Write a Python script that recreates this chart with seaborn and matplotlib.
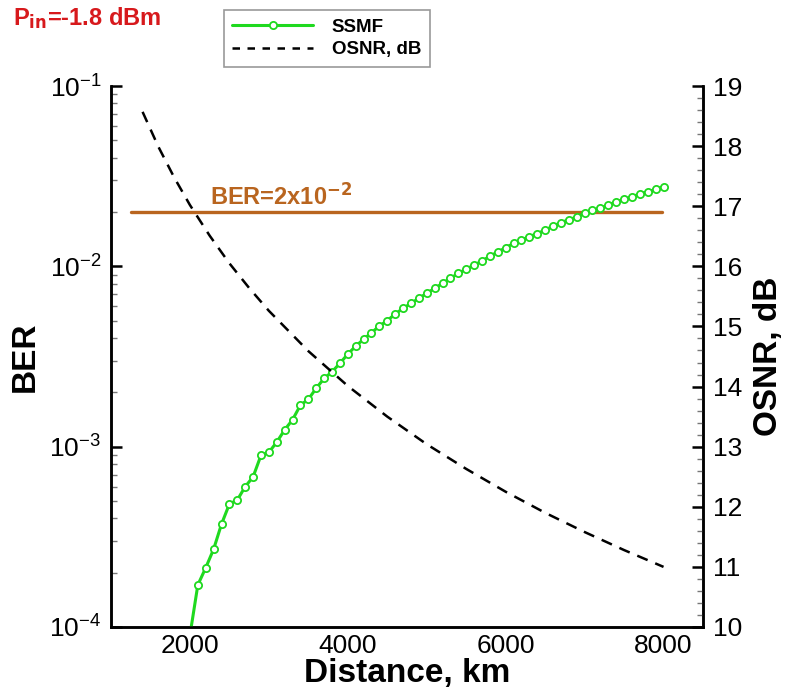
import numpy as np
import pandas as pd
import matplotlib
matplotlib.use("Agg")
import matplotlib.pyplot as plt
import seaborn as sns
from matplotlib.ticker import LogLocator, MultipleLocator, LogFormatterSciNotation, NullFormatter
from matplotlib.lines import Line2D

# ---------------- data ----------------
ssmf_km = [2000, 2100, 2200, 2300, 2400, 2500, 2600, 2700, 2800, 2900,
           3000, 3100, 3200, 3300, 3400, 3500, 3600, 3700, 3800, 3900,
           4000, 4100, 4200, 4300, 4400, 4500, 4600, 4700, 4800, 4900,
           5000, 5100, 5200, 5300, 5400, 5500, 5600, 5700, 5800, 5900,
           6000, 6100, 6200, 6300, 6400, 6500, 6600, 6700, 6800, 6900,
           7000, 7100, 7200, 7300, 7400, 7500, 7600, 7700, 7800, 7900, 8000]
ssmf_ber = [9.0e-5, 1.71e-4, 2.13e-4, 2.70e-4, 3.72e-4, 4.81e-4, 5.06e-4, 6.0e-4, 6.8e-4, 8.95e-4,
            9.3e-4, 1.06e-3, 1.24e-3, 1.41e-3, 1.70e-3, 1.83e-3, 2.11e-3, 2.39e-3, 2.60e-3, 2.90e-3,
            3.26e-3, 3.61e-3, 3.94e-3, 4.28e-3, 4.67e-3, 5.0e-3, 5.44e-3, 5.85e-3, 6.23e-3, 6.65e-3,
            7.09e-3, 7.55e-3, 8.05e-3, 8.58e-3, 9.14e-3, 9.66e-3, 1.016e-2, 1.07e-2, 1.14e-2, 1.20e-2,
            1.27e-2, 1.34e-2, 1.40e-2, 1.46e-2, 1.52e-2, 1.59e-2, 1.67e-2, 1.75e-2, 1.81e-2, 1.88e-2,
            1.97e-2, 2.04e-2, 2.10e-2, 2.19e-2, 2.28e-2, 2.35e-2, 2.43e-2, 2.52e-2, 2.59e-2, 2.67e-2, 2.77e-2]

osnr_km = [1400, 1600, 1800, 2000, 2250, 2500, 2750, 3000, 3500, 4000,
           4500, 5000, 5500, 6000, 6500, 7000, 7500, 8000]
osnr_db = [18.57, 17.99, 17.48, 17.02, 16.51, 16.05, 15.64, 15.26, 14.59, 14.01,
           13.50, 13.04, 12.63, 12.25, 11.90, 11.58, 11.28, 11.00]

ber_limit_km = [1250, 7980]
ber_limit = [2e-2, 2e-2]

x_ticks = [2000, 4000, 6000, 8000]
osnr_ticks = [10, 11, 12, 13, 14, 15, 16, 17, 18, 19]

# ---------------- style ----------------
sns.set_style("white")
plt.rcParams['font.family'] = ['Liberation Sans', 'DejaVu Sans']
plt.rcParams['mathtext.default'] = 'regular'
plt.rcParams['text.color'] = 'black'
plt.rcParams['axes.labelcolor'] = 'black'
plt.rcParams['xtick.color'] = 'black'
plt.rcParams['ytick.color'] = 'black'

GREEN = '#1fd91f'
BROWN = '#b9651f'
RED = '#d7191c'

fig = plt.figure(figsize=(7.86, 6.91), dpi=100)
ax = fig.add_axes([111/786, 1 - 627/691, (703 - 111)/786, (627 - 86)/691])
ax2 = ax.twinx()

df_ssmf = pd.DataFrame({'km': ssmf_km, 'ber': ssmf_ber})
df_osnr = pd.DataFrame({'km': osnr_km, 'osnr': osnr_db})
df_lim = pd.DataFrame({'km': ber_limit_km, 'ber': ber_limit})

sns.lineplot(data=df_lim, x='km', y='ber', ax=ax, color=BROWN, lw=2.4, zorder=2)
sns.lineplot(data=df_ssmf, x='km', y='ber', ax=ax, color=GREEN, lw=2.2,
             marker='o', markersize=5.2, markerfacecolor='white',
             markeredgecolor=GREEN, markeredgewidth=1.3, zorder=3)
sns.lineplot(data=df_osnr, x='km', y='osnr', ax=ax2, color='black', lw=1.8,
             dashes=(4.5, 3.3), zorder=3)

ax.set_yscale('log')
ax.set_xlim(1000, 8500)
ax.set_ylim(1e-4, 1e-1)
ax2.set_ylim(10, 19)

ax.set_xticks(x_ticks)
ax.xaxis.set_minor_locator(MultipleLocator(500))
ax.yaxis.set_major_locator(LogLocator(base=10, numticks=10))
ax.yaxis.set_minor_locator(LogLocator(base=10, subs=np.arange(2, 10), numticks=20))
ax.yaxis.set_major_formatter(LogFormatterSciNotation())
ax.yaxis.set_minor_formatter(NullFormatter())
ax2.set_yticks(osnr_ticks)
ax2.yaxis.set_minor_locator(MultipleLocator(0.2))

for a in (ax, ax2):
    a.spines['top'].set_visible(False)
    for s in ('left', 'right', 'bottom'):
        a.spines[s].set_linewidth(1.8)
        a.spines[s].set_color('black')

ax.tick_params(axis='both', which='major', direction='in', length=8, width=1.8,
               labelsize=19, color='black', labelcolor='black')
ax.tick_params(axis='both', which='minor', direction='in', length=4.5, width=1.0,
               color='#777777')
ax.tick_params(axis='x', which='major', pad=5)
ax.tick_params(axis='y', which='major', pad=7)
ax2.tick_params(axis='y', which='major', direction='in', length=8, width=1.8,
                labelsize=19, color='black', labelcolor='black', pad=7)
ax2.tick_params(axis='y', which='minor', direction='in', length=4.5, width=1.0,
                color='#777777')

ax.set_xlabel('Distance, km', fontsize=24, fontweight='bold', labelpad=0, color='black')
ax.set_ylabel('BER', fontsize=24, fontweight='bold', labelpad=6, color='black')
ax2.set_ylabel('OSNR, dB', fontsize=24, fontweight='bold', labelpad=8, color='black')

ax.text(2260, 0.0219, r'BER=2x10$^{\mathbf{-2}}$', color=BROWN, fontsize=17,
        fontweight='bold', va='baseline', ha='left')

fig.text(13/786, 1 - 25/691, r'P$_{\mathbf{in}}$=-1.8 dBm', color=RED, fontsize=17,
         fontweight='bold', va='baseline', ha='left')

handles = [
    Line2D([], [], color=GREEN, lw=2.2, marker='o', markersize=5.2,
           markerfacecolor='white', markeredgecolor=GREEN, markeredgewidth=1.3),
    Line2D([], [], color='black', lw=1.8, dashes=(3.0, 3.0)),
]
leg = fig.legend(handles, ['SSMF', 'OSNR, dB'], loc='upper left',
                 bbox_to_anchor=(224/786, 1 - 10/691), frameon=True, fancybox=False,
                 edgecolor='#999999', framealpha=1, numpoints=1,
                 prop={'weight': 'bold', 'size': 13.5}, handlelength=4.3,
                 handletextpad=1.0, borderpad=0.45, labelspacing=0.3, borderaxespad=0)
leg.get_frame().set_linewidth(1.2)
for t in leg.get_texts():
    t.set_color('black')

fig.savefig('out.png', dpi=100)
